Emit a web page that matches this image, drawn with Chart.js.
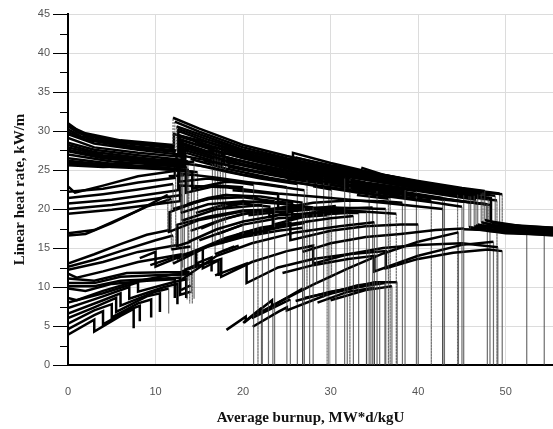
<!DOCTYPE html>
<html>
<head>
<meta charset="utf-8">
<script src="https://cdn.jsdelivr.net/npm/chart.js@4.4.1/dist/chart.umd.min.js"></script>
<style>
html,body{margin:0;padding:0;background:#fff;overflow:hidden;}
#wrap{width:553px;height:429px;}
</style>
</head>
<body>
<div id="wrap"><canvas id="burnupChart" width="553" height="429"></canvas></div>
<script>
// rod power histories: each entry is one rod, points are [burnup, linear heat rate]
const firstTop = [
  [[0,31],[1,30.2],[2,29.7],[6,28.8],[12,28.2],[12,31.7],[15,30.3],[20,28.2],[25,26.8],[30,25.6],[35,24.6],[40,23.6],[45,22.7],[47.6,22.3],[47.6,18.6],[50,17.9],[55.4,17.6]],
  [[0,30.6],[1,29.9],[2,29.4],[6,28.5],[12.2,27.8],[12.2,31.2],[15,29.9],[20,27.9],[25,26.5],[30,25.3],[35,24.3],[40,23.3],[47.2,22],[47.2,18.3],[50,17.6],[55.4,17.4]],
  [[0,30.2],[1.5,29.3],[3,28.9],[7,28.1],[12.4,27.5],[12.4,30.6],[16,29.2],[20,27.6],[25.7,26.2],[25.7,27.2],[30,25.9],[35,24.6],[40,23.5],[46.8,21.9],[46.8,18],[50,17.3],[55.4,17.1]],
  [[0,29.6],[3,28.4],[8,27.6],[12.6,27],[12.6,30],[16,28.6],[20,27.2],[25,25.9],[30,24.9],[35,24],[40,23],[46.4,21.7],[46.4,17.8],[50,17.1],[55.4,16.9]],
  [[0,29.1],[3,27.9],[8,27.2],[12.8,26.7],[12.8,29.4],[17,27.8],[22,26.3],[27,25.3],[32,24.4],[37,23.5],[42,22.6],[46,22],[46,17.5],[50,16.9],[55.4,16.7]],
  [[0,28.5],[3,27.6],[8,26.9],[13,26.3],[13,28.8],[17,27.4],[22,26],[27,25],[32,24.1],[37,23.2],[43,22.3],[48.3,21.4],[48.3,18.4],[52.4,17.7],[52.4,0]],
  [[0,27.9],[4,26.9],[9,26.3],[13.2,25.8],[13.2,28.2],[17,26.9],[22,25.6],[26,24.7],[31.6,23.9],[31.6,0]],
  [[0,27.4],[4,26.5],[9,26],[13.4,25.5],[13.4,27.8],[18,26.2],[22,25.3],[27,24.2],[32,23.5],[38.5,22.4],[38.5,0]],
  [[0,27],[5,26.1],[10,25.7],[13.6,25.3],[13.6,20.6],[16,21.4],[18,21.8],[22,21.6],[26.8,20.8],[26.8,0]],
  [[0,26.5],[5,25.8],[10,25.4],[13.8,25],[13.8,15.8],[17,17.4],[20,18.4],[24,19.2],[30,19.6],[34.1,19.6],[34.1,0]],
  [[0,26],[5,25.4],[11,25.1],[14.2,24.8],[14.2,22.6],[18,23.5],[22,23.3],[25,22.8],[25,0]],
  [[0,25.8],[4,25.6],[8,26],[12,26.2],[14.4,26],[14.4,8.5]]
];
const extraTop = [
  [[0,30.8],[2,29.5],[6,28.7],[12.1,28],[12.1,29.6],[15,28.8],[20,27.4],[25,26.3],[30,25.2],[35,24.2],[40,23.2],[44,22.6],[47.4,22.1],[47.4,17.9],[55.4,17.5]],
  [[0,29.9],[2,28.9],[7,27.9],[12.3,27.3],[12.3,15.2],[14,15.8]],
  [[0,28.2],[3,27.3],[8,26.6],[13.1,26],[13.1,12.5]],
  [[0,27.6],[4,26.7],[9,26.1],[12.9,25.8],[12.9,19.5],[16,20.6],[20,21],[24,20.7],[28,20.2],[28,0]],
  [[0,26.2],[5,25.6],[10,25.2],[13.5,24.9],[13.5,22.1],[17,23],[20,22.8],[20,16.6],[24,17.6],[27,18.2]],
  [[0,25.6],[4,25.4],[9,25.5],[12.7,25.6],[12.7,23.5],[16,23.9],[20,23.3],[21.2,23.1],[21.2,0]]
];
const firstMid = [
  [[0,22.9],[0.8,22.1],[4,23],[8,24.2],[12.4,24.9],[12.4,27],[16,26.2],[20,25.1],[25,24.2],[30,23.4],[35,22.6],[40,21.8],[45,21],[47.8,20.6],[47.8,17.2],[55.4,16.6]],
  [[0,22.2],[4,22.6],[8,23.4],[12.2,24],[12.2,26],[16,25.4],[20,24.4],[26,23.4],[30,22.8],[36,21.7],[42,20.8],[45,20.3],[45,0]],
  [[0,21.4],[4,21.9],[8,22.5],[12,23.2],[12,20],[16,21.3],[20,21.5],[23.6,21],[23.6,0]],
  [[0,20.7],[5,21.2],[10,22],[12.6,22.4],[12.6,24.6],[17,24],[22,23.2],[27,22.4],[27,0]],
  [[0,20],[5,20.5],[10,21.3],[13,21.8],[13,18.5],[17,20],[22.2,20.5],[22.2,0]],
  [[0,19.4],[5,19.9],[10,20.6],[12.8,21],[12.8,23],[18,22.8],[24,22],[30,21.4],[36,20.8],[42.8,20],[42.8,0]],
  [[0,16.6],[2,16.8],[5,18.2],[8,19.8],[11.4,21.8],[11.4,17],[15,18.6],[20,19.7],[25,20.1],[30,20.2],[36.3,20],[36.3,0]],
  [[0,16.9],[3,17.3],[6,18.8],[9,20.3],[11.8,21.3],[11.8,14.8],[14,15.2]]
];
const firstRising = [
  [[0,13],[3,14.2],[6,15.5],[9,16.7],[11.6,17.3],[11.6,19.6],[15,21],[18,21.8],[21.7,21.5],[21.7,0]],
  [[0,12.6],[3,13.5],[6,14.6],[10,16],[12,16.6],[12,13],[16,15.2],[20,16.8],[25,18],[30,18.8],[32.6,19.1],[32.6,0]],
  [[0,12.2],[4,13.2],[8,14.5],[12.5,15.4],[12.5,18],[16,19],[20,19.8],[26,20],[32,19.8],[37.5,19.4],[37.5,0]],
  [[0,11.7],[1,11.2],[4,12],[8,13.2],[13,14.2],[13,11],[17,14],[21,15.6],[26,17],[31,17.8],[35,18.3],[35,0]]
];
const firstLow = [
  [[0,11.1],[3,10.8],[6.7,11.8],[11,11.9],[13.9,11.9],[13.9,7.9]],
  [[0,10.5],[3,10.5],[6,11.3],[10,11.5],[13.6,11.6],[13.6,8.4]],
  [[0,10.1],[3,10.1],[6,10.8],[9.5,11],[12.8,11.2],[12.8,9],[14,9.4]],
  [[0,9.8],[2,9.5],[5,10.4],[9,10.8],[12.2,11],[12.2,8.6]]
];
const sawLow = [
  [[0,3.9],[3,5.8],[3,4.3],[6,6.3],[7.5,7.2],[7.5,4.7]],
  [[0,4.6],[3,6.4],[4,6.9],[4,5.2],[7,7.1],[8.2,7.6],[8.2,5.6]],
  [[0,5.3],[3,7],[5,7.8],[5,6.1],[8,7.9],[9.5,8.4],[9.5,6.1]],
  [[0,6],[3,7.4],[5.5,8.6],[5.5,6.8],[9,8.8],[10.5,9.2],[10.5,6.8]],
  [[0,6.6],[4,8.3],[6,9.2],[6,7.6],[10,9.4],[11.5,9.8],[11.5,6.6]],
  [[0,7.3],[4,8.8],[7,10],[7,8.5],[11,10],[12.5,10.4],[12.5,7.8]],
  [[0,8],[4,9.2],[8,10.6],[8,9.4],[12,10.6],[13.5,11],[13.5,8.6]],
  [[0,8.6],[1,8.3],[4,9.5],[7,10.5],[9,11],[12,11.6],[14.2,11.7],[14.2,7.9]]
];
const lowFill = [
  [[8.2,13.7],[10,14.5],[10,12.6],[13,14],[15.4,15],[15.4,12.4],[17.2,13.4],[17.2,11.4]],
  [[9.4,12.8],[12,13.8],[14.6,14.6],[14.6,13],[16.4,13.8],[16.4,12]],
  [[17.4,27.1],[17.4,15.6],[20,16.6],[22.9,17.2],[22.9,0]]
];
const transitions = [
  [[10,25.3],[12.9,25.1],[12.9,9.6],[14,10.2]],
  [[10.5,25.8],[13.3,25.5],[13.3,12.2],[15,13]],
  [[11,26.4],[13.7,26.1],[13.7,10.8]],
  [[11.5,24.2],[14.1,24.4],[14.1,9.2]],
  [[12,25],[14.8,24.7],[14.8,12.6],[16,13.2]],
  [[14.5,28.6],[16.8,27.7],[16.8,14.2],[19,15.2]],
  [[15,28.4],[17.1,27.5],[17.1,16.8],[20,18]],
  [[15.5,26.2],[17.7,25.6],[17.7,14.6],[19.5,15.3]],
  [[16,27.5],[18,26.9],[18,18.2]],
  [[24,24.5],[27.3,23.8],[27.3,9.8]],
  [[25,23.9],[28.4,23.4],[28.4,10.4]],
  [[26,24.6],[29.2,24],[29.2,8.6]],
  [[28,22.9],[30.1,22.5],[30.1,11.2]],
  [[31,22.6],[34.4,22],[34.4,0]],
  [[32,23],[35.3,22.3],[35.3,0]],
  [[33,21.8],[36.6,21.3],[36.6,0]]
];
const laterRising = [
  [[12.4,13.6],[16,15.2],[20,16.4],[24,17.2],[26.8,17.6],[26.8,14.5],[30,15.6],[34,16.4],[38,16.8],[42,17.3],[45.2,17.5],[45.2,0]],
  [[13,12],[17.5,13.6],[17.5,11.3],[21,13.2],[25,14.6],[28,15.3],[28,13],[32,14.2],[36,15],[40,15.4],[45,15.6],[49.1,15.1],[49.1,0]],
  [[14.2,14.5],[18,16.3],[22,17.6],[25.4,18.2],[25.4,16],[30,17.2],[34,17.8],[38,18],[40,18],[40,0]],
  [[15,16],[20,18],[24,18.8],[29.6,19.2],[29.6,0]],
  [[16.8,11.5],[20.4,13],[20.4,10.5],[24,12.5],[28,13.6],[32,14.2],[36.3,14.6],[36.3,12.4],[40,13.6],[44,14.4],[48,14.8],[49.6,14.6],[49.6,0]],
  [[24.5,11.8],[28,12.8],[32,13.6],[35,14],[35,12],[40,14],[45,15.4],[48.6,15.8],[48.6,0]],
  [[14,17.2],[17,18.4],[20,19.4],[23.4,19.8],[23.4,18],[27,19],[31.9,19.6],[31.9,0]]
];
const midFill = [
  [[14.6,19.5],[18,20.6],[22,21],[25.6,20.8],[25.6,19],[28,19.6],[32,20.1],[34.8,20.2],[34.8,0]],
  [[15.2,17.5],[18,18.8],[22,19.8],[25,20.3],[25,18.6],[28,19.3],[32,19.5],[33.2,19.5],[33.2,0]],
  [[17.6,20.2],[20,20.7],[23,20.3],[23,19],[26,19.8],[30.6,20.4],[30.6,0]],
  [[18.8,22.4],[21,22.2],[24,21.9],[24,20],[28,20.8],[32,21.1],[36,21],[38.2,20.8],[38.2,0]],
  [[20.6,19.2],[24,19.6],[27.6,19.9],[27.6,0]]
];
const lateLow = [
  [[18.1,4.5],[20.3,6.2],[20.3,5.6],[22.5,7.6],[23.3,8.3],[23.3,7.6],[28,10.3],[32,12.4],[36,14.3],[40,15.8],[44.6,17],[44.6,0]],
  [[21.1,4.9],[24,6.8],[25,7.4],[25,7],[30,9.2],[33,10.2],[35.6,10.6],[35.6,0]],
  [[20,5.4],[22.1,7.3],[22.1,0]],
  [[21.5,6.5],[23.4,7.6],[23.4,0]],
  [[22.5,7],[26.8,9.8],[26.8,0]],
  [[21,6],[25.4,8.4],[25.4,0]]
];
const dropCluster = [
  [[26,8.2],[30,9.4],[34.1,10.2],[34.1,0]],
  [[27,8.6],[31,9.6],[34.6,10.3],[34.6,0]],
  [[28.5,8],[32,9.4],[35,9.9],[35,0]],
  [[29.5,9],[33,10],[36.2,10.5],[36.2,0]],
  [[30,8.3],[34,9.6],[37,10.1],[37,0]],
  [[31,9.5],[35,10.6],[37.6,10.6],[37.6,0]]
];
const laterHigh = [
  [[12.6,29],[16,27.8],[20,26.5],[25,25.2],[30,24.2],[32.2,23.8],[32.2,0]],
  [[13,28.5],[17,27],[22,25.5],[28,24.3],[34,23.2],[39.8,22.3],[39.8,0]],
  [[13.2,27.6],[18,26],[23,25],[29,23.8],[35,22.8],[42.8,21.4],[42.8,0]],
  [[17.5,27.6],[20,26.7],[25,25.5],[30,24.6],[35,23.7],[40,22.8],[45,22.1],[48.8,21.7],[48.8,17.6],[54.4,17.1],[54.4,0]],
  [[26,26.6],[30,25.5],[35,24.4],[40,23.4],[46,22.3],[49.6,21.9],[49.6,17.3],[55.4,16.9]],
  [[16.5,28.2],[16.5,15.4],[20,17],[23.6,17.8]],
  [[17.2,27],[20,25.6],[26,24],[29.8,23.5],[29.8,0]],
  [[26.3,25.8],[30,24.8],[36,23.6],[42,22.5],[45.2,21.9],[45.2,17.4],[50,17.2],[55.4,17.3]]
];
const denseBand = [
  [[12.5,30.3],[16,28.9],[20,27.5],[25,26.1],[30,25.1],[35,24.1],[40,23.2],[45,22.3],[48,21.9],[48,17.7],[55.4,17.2]],
  [[12.7,29.3],[16,28.2],[20,26.9],[25,25.6],[30,24.6],[35,23.6],[40,22.7],[44.5,21.9],[44.5,0]],
  [[13.3,28],[17,26.6],[22,25.2],[27,24],[32,23],[37,22.1],[43,21.2],[43,0]],
  [[13.5,27.2],[18,25.7],[23,24.5],[28,23.5],[33,22.5],[38,21.6],[41.5,21.1],[41.5,0]],
  [[14,26.4],[18,25.2],[23,24],[28,23],[33,22.1],[36.8,21.5],[36.8,0]],
  [[14.5,25.7],[18,24.8],[22,23.9],[26.2,23.2],[26.2,0]],
  [[16.2,28.5],[20,27],[25,25.8],[30,24.8],[35,23.8],[40,23],[45.8,22],[45.8,17.7],[50,17],[55.4,16.9]],
  [[17.8,26.6],[20,26.1],[25,24.9],[30,24],[35,23.1],[40,22.3],[46.6,21.2],[46.6,17.9],[50,17.5],[55.4,17.4]],
  [[18.3,25.4],[22,24.6],[27,23.6],[32,22.8],[37,22],[42,21.3],[47.9,20.6],[47.9,0]],
  [[26.5,25.2],[30,24.3],[34,23.4],[39,22.6],[44,21.8],[49,21.1],[49,0]],
  [[30.3,24.6],[34,23.9],[38,23],[43,22.1],[48.4,21.3],[48.4,18.1],[55.4,17.6]],
  [[31,23.3],[35,22.6],[40,21.8],[45,21],[48.2,20.5],[48.2,0]],
  [[33.5,25.3],[36,24.4],[40,23.5],[45,22.6],[49.3,22],[49.3,17.1],[55.4,16.8]]
];
const yMinorTicks = [2.5, 7.5, 12.5, 17.5, 22.5, 27.5, 32.5, 37.5, 42.5];

const allRods = [].concat(firstTop, extraTop, firstMid, firstRising, firstLow, sawLow, lowFill, transitions,
  laterRising, midFill, lateLow, dropCluster, laterHigh, denseBand);

// long vertical drops are drawn thin and dotted like in the figure
function isLongDrop(c) {
  const a = c.p0.parsed, b = c.p1.parsed;
  return Math.abs(a.x - b.x) < 0.01 && Math.abs(a.y - b.y) > 3;
}

const datasets = allRods.map(rod => ({
  data: rod.map(p => ({x: p[0], y: p[1]})),
  borderColor: '#000',
  borderWidth: 2.5,
  pointRadius: 0,
  tension: 0,
  fill: false,
  segment: {
    borderColor: c => isLongDrop(c) ? 'rgba(60,60,60,0.75)' : undefined,
    borderWidth: c => isLongDrop(c) ? 1.2 : undefined,
    borderDash: c => isLongDrop(c) ? [2, 1] : undefined
  }
}));

const minorTickPlugin = {
  id: 'minorTicks',
  afterDraw(chart) {
    const y = chart.scales.y, ctx = chart.ctx, left = chart.chartArea.left;
    ctx.save();
    ctx.strokeStyle = '#000';
    ctx.lineWidth = 1;
    yMinorTicks.forEach(v => {
      const py = Math.round(y.getPixelForValue(v)) + 0.5;
      ctx.beginPath();
      ctx.moveTo(left - 8, py);
      ctx.lineTo(left, py);
      ctx.stroke();
    });
    ctx.restore();
  }
};

const tickFont = {family: "'Liberation Sans', Arial, sans-serif", size: 11};
const titleFont = {family: "'Liberation Serif', 'Times New Roman', serif", size: 15, weight: 'bold'};

new Chart(document.getElementById('burnupChart'), {
  type: 'line',
  data: {datasets: datasets},
  options: {
    responsive: false,
    animation: false,
    layout: {padding: {top: 14, right: 0, left: 0, bottom: 0}},
    plugins: {legend: {display: false}, tooltip: {enabled: false}},
    scales: {
      x: {
        type: 'linear', min: 0, max: 55.4,
        ticks: {stepSize: 10, includeBounds: false, padding: 20, color: '#555', font: tickFont, maxRotation: 0},
        grid: {color: '#dcdcdc', lineWidth: 1, drawTicks: false},
        border: {color: '#000', width: 2},
        title: {display: true, text: 'Average burnup, MW*d/kgU', font: titleFont, color: '#111', padding: {top: 0, bottom: 2}},
        afterFit: s => { s.height = 64; }
      },
      y: {
        type: 'linear', min: 0, max: 45,
        ticks: {stepSize: 5, padding: 3, color: '#555', font: tickFont},
        grid: {color: '#dcdcdc', lineWidth: 1, tickColor: '#000', tickLength: 15, tickWidth: 1},
        border: {color: '#000', width: 2},
        title: {display: true, text: 'Linear heat rate, kW/m', font: titleFont, color: '#111', padding: {top: 11, bottom: 0}},
        afterFit: s => { s.width = 68; }
      }
    }
  },
  plugins: [minorTickPlugin]
});
</script>
</body>
</html>
